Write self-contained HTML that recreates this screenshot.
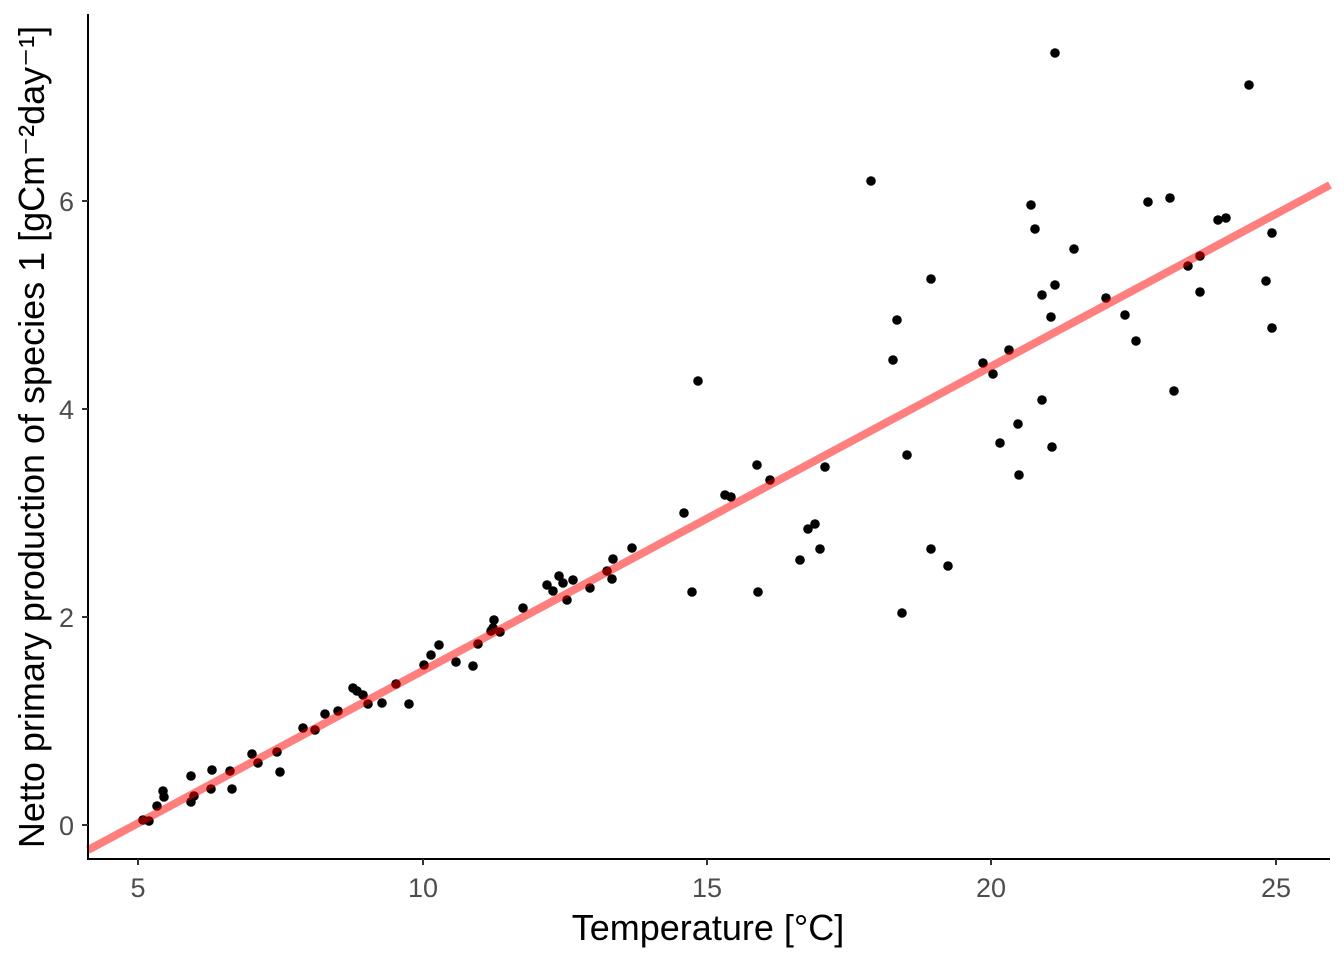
<!DOCTYPE html>
<html><head><meta charset="utf-8"><style>body{margin:0;background:#fff}</style></head><body>
<svg width="1344" height="960" xmlns="http://www.w3.org/2000/svg" font-family="Liberation Sans, sans-serif">
<rect width="1344" height="960" fill="#fff"/>
<g id="pts" fill="#000"></g>
<line x1="88" y1="850" x2="1330" y2="185" stroke="#ff0000" stroke-opacity="0.5" stroke-width="8"/>
<line x1="88" y1="14" x2="88" y2="860" stroke="#000" stroke-width="2"/>
<line x1="87" y1="859" x2="1330" y2="859" stroke="#000" stroke-width="2"/>
<g stroke="#333" stroke-width="2">
<line x1="82" y1="825" x2="88" y2="825"/><line x1="82" y1="617" x2="88" y2="617"/><line x1="82" y1="409" x2="88" y2="409"/><line x1="82" y1="201" x2="88" y2="201"/>
<line x1="138" y1="859" x2="138" y2="865"/><line x1="423" y1="859" x2="423" y2="865"/><line x1="707" y1="859" x2="707" y2="865"/><line x1="991" y1="859" x2="991" y2="865"/><line x1="1276" y1="859" x2="1276" y2="865"/>
</g>
<g fill="#4d4d4d" font-size="27" text-anchor="end">
<text x="74" y="835">0</text><text x="74" y="627">2</text><text x="74" y="419">4</text><text x="74" y="211">6</text>
</g>
<g fill="#4d4d4d" font-size="27" text-anchor="middle">
<text x="138" y="897">5</text><text x="423" y="897">10</text><text x="707" y="897">15</text><text x="991" y="897">20</text><text x="1276" y="897">25</text>
</g>
<text x="708" y="940" font-size="36" text-anchor="middle" fill="#000">Temperature [°C]</text>
<text transform="translate(44,437) rotate(-90)" font-size="36" text-anchor="middle" fill="#000">Netto primary production of species 1 [gCm⁻²day⁻¹]</text>
</svg>
<script>
var p=[[143,820],[149,821],[157,806],[163,791],[164,797],[191,776],[191,802],[194,796],[212,770],[211,789],[230,771],[232,789],[252,754],[258,763],[277,752],[280,772],[303,728],[315,730],[325,714],[338,711],[353,688],[357,691],[363,695],[368,704],[382,703],[396,684],[409,704],[424,665],[431,655],[439,645],[456,662],[473,666],[478,644],[491,631],[494,620],[493,628],[500,632],[523,608],[547,585],[553,591],[559,576],[563,583],[567,600],[573,580],[590,588],[607,571],[612,579],[613,559],[632,548],[684,513],[692,592],[698,381],[725,495],[731,497],[757,465],[758,592],[770,480],[800,560],[808,529],[815,524],[820,549],[825,467],[871,181],[893,360],[897,320],[902,613],[907,455],[931,549],[931,279],[948,566],[983,363],[993,374],[1000,443],[1009,350],[1018,424],[1019,475],[1031,205],[1035,229],[1042,295],[1042,400],[1051,317],[1052,447],[1055,285],[1055,53],[1074,249],[1106,298],[1125,315],[1136,341],[1148,202],[1170,198],[1174,391],[1188,266],[1200,256],[1200,292],[1218,220],[1226,218],[1249,85],[1266,281],[1272,233],[1272,328]];
var g=document.getElementById('pts'),s='';
p.forEach(function(a){s+='<circle cx="'+a[0]+'" cy="'+a[1]+'" r="4.8"/>';});
g.innerHTML=s;
</script>
</body></html>
